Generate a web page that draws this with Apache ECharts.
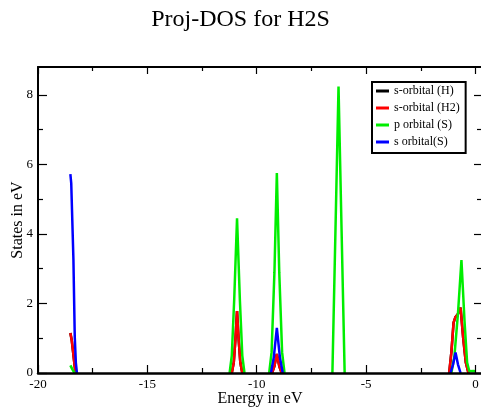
<!DOCTYPE html>
<html>
<head>
<meta charset="utf-8">
<script src="https://cdn.jsdelivr.net/npm/echarts@6/dist/echarts.min.js"></script>
<style>
  html, body { margin: 0; padding: 0; background: #fff; }
  #chart { width: 481px; height: 408px; }
</style>
</head>
<body>
<div id="chart"></div>
<script>
// Projected density of states for H2S, energies in eV.
const seriesNames = ['s-orbital (H)', 's-orbital (H2)', 'p orbital (S)', 's orbital(S)'];
const seriesColors = ['#000000', '#ff0000', '#00ee00', '#0000ff'];

const energyMajor = [-20, -15, -10, -5, 0];
const energyMinor = [-17.5, -12.5, -7.5, -2.5];
const statesMajor = [0, 2, 4, 6, 8];
const statesMinor = [1, 3, 5, 7];

// [energy, states]
const sOrbitalH = [
  [-18.52, 1.15], [-18.46, 0.95], [-18.39, 0.57], [-18.31, 0.12], [-18.26, 0],
  [-11.14, 0], [-11.05, 0.30], [-10.97, 1.00], [-10.90, 1.78], [-10.83, 1.00], [-10.75, 0.30], [-10.66, 0],
  [-9.30, 0], [-9.19, 0.20], [-9.08, 0.55], [-8.97, 0.20], [-8.86, 0],
  [-1.20, 0], [-1.10, 0.60], [-1.00, 1.45], [-0.92, 1.60], [-0.80, 1.70], [-0.68, 1.88], [-0.56, 1.00], [-0.44, 0.30], [-0.32, 0], [0, 0]
];

const sOrbitalH2 = [
  [-18.52, 1.15], [-18.46, 0.95], [-18.39, 0.57], [-18.31, 0.12], [-18.26, 0],
  [-11.14, 0], [-11.05, 0.30], [-10.97, 1.00], [-10.90, 1.78], [-10.83, 1.00], [-10.75, 0.30], [-10.66, 0],
  [-9.30, 0], [-9.19, 0.20], [-9.08, 0.55], [-8.97, 0.20], [-8.86, 0],
  [-1.20, 0], [-1.10, 0.60], [-1.00, 1.45], [-0.92, 1.60], [-0.80, 1.70], [-0.68, 1.88], [-0.56, 1.00], [-0.44, 0.30], [-0.32, 0], [0, 0]
];

const pOrbitalS = [
  [-18.52, 0.22], [-18.44, 0.12], [-18.36, 0.03], [-18.30, 0],
  [-11.24, 0], [-11.14, 0.50], [-11.03, 2.10], [-10.90, 4.45], [-10.77, 2.10], [-10.66, 0.50], [-10.56, 0],
  [-9.43, 0], [-9.32, 0.60], [-9.19, 2.90], [-9.08, 5.75], [-8.97, 2.90], [-8.84, 0.60], [-8.73, 0],
  [-6.54, 0], [-6.40, 4.10], [-6.26, 8.24], [-6.12, 4.10], [-5.98, 0],
  [-1.10, 0], [-0.96, 0.50], [-0.80, 1.70], [-0.64, 3.25], [-0.50, 1.50], [-0.38, 0.30], [-0.28, 0.05], [-0.10, 0.06], [0, 0.05]
];

const sOrbitalS = [
  [-18.52, 5.72], [-18.48, 5.45], [-18.38, 3.25], [-18.32, 1.05], [-18.27, 0.30], [-18.22, 0],
  [-9.35, 0], [-9.22, 0.45], [-9.08, 1.30], [-8.94, 0.45], [-8.81, 0],
  [-1.14, 0], [-1.02, 0.25], [-0.91, 0.59], [-0.80, 0.25], [-0.68, 0], [0, 0]
];

const seriesData = [sOrbitalH, sOrbitalH2, pOrbitalS, sOrbitalS];

// Break the line wherever it would run flat along zero, so the
// black frame at the bottom stays black between peaks.
function withGaps(points) {
  const out = [];
  for (let i = 0; i < points.length; i++) {
    if (i > 0 && points[i][1] === 0 && points[i - 1][1] === 0) {
      out.push([points[i][0], null]);
    }
    out.push(points[i]);
  }
  return out;
}

const FONT = "'Liberation Serif', 'DejaVu Serif', serif";
const X_MIN = -20, X_MAX = 0.3, Y_MIN = 0, Y_MAX = 8.8;

// Builds one axis layer: frame line, inward ticks at given values, optional labels.
function axisLayer(kind, position, ticks, tickLen, opts) {
  opts = opts || {};
  const isX = kind === 'x';
  const ax = {
    type: 'value',
    position: position,
    min: isX ? X_MIN : Y_MIN,
    max: isX ? X_MAX : Y_MAX,
    z: 10,
    axisLine: { show: !!opts.line, onZero: false, lineStyle: { color: '#000', width: opts.lineWidth || 2 } },
    axisTick: { show: true, inside: true, length: tickLen, customValues: ticks,
                lineStyle: { color: '#000', width: 1.2 } },
    axisLabel: { show: false },
    splitLine: { show: false }
  };
  if (opts.labels) {
    ax.axisLabel = { show: true, customValues: ticks, color: '#000', fontFamily: FONT,
                     fontSize: 13, margin: 5 };
  }
  if (opts.name) {
    ax.name = opts.name;
    ax.nameLocation = 'middle';
    ax.nameGap = opts.nameGap;
    ax.nameMoveOverlap = false;
    ax.nameTextStyle = { color: '#000', fontFamily: FONT, fontSize: 16 };
  }
  return ax;
}

const chart = echarts.init(document.getElementById('chart'), null, { renderer: 'canvas' });

chart.setOption({
  animation: false,
  backgroundColor: '#fff',
  title: {
    text: 'Proj-DOS for H2S',
    left: 'center',
    top: 3,
    textStyle: { color: '#000', fontFamily: FONT, fontSize: 24, fontWeight: 'normal' }
  },
  grid: { left: 38, right: -1, top: 67, bottom: 35, containLabel: false, outerBoundsMode: 'none' },
  xAxis: [
    axisLayer('x', 'bottom', energyMajor, 8, { line: true, lineWidth: 2.5, labels: true, name: 'Energy in eV', nameGap: 18 }),
    axisLayer('x', 'bottom', energyMinor, 5),
    axisLayer('x', 'top', energyMajor, 7, { line: true }),
    axisLayer('x', 'top', energyMinor, 4)
  ],
  yAxis: [
    axisLayer('y', 'left', statesMajor, 9, { line: true, labels: true, name: 'States in eV', nameGap: 12 }),
    axisLayer('y', 'left', statesMinor, 5),
    axisLayer('y', 'right', statesMajor, 8, { line: true }),
    axisLayer('y', 'right', statesMinor, 5)
  ],
  legend: {
    orient: 'vertical',
    left: 372,
    top: 82,
    padding: [2, 6, 4, 4],
    backgroundColor: '#fff',
    borderColor: '#000',
    borderWidth: 2,
    borderRadius: 0,
    icon: 'rect',
    itemWidth: 13,
    itemHeight: 3,
    itemGap: 3,
    textStyle: { color: '#000', fontFamily: FONT, fontSize: 12, lineHeight: 14 },
    data: seriesNames
  },
  series: seriesData.map((d, i) => ({
    name: seriesNames[i],
    type: 'line',
    xAxisIndex: 0,
    yAxisIndex: 0,
    data: withGaps(d),
    connectNulls: false,
    showSymbol: false,
    symbol: 'none',
    z: 2 + i,
    color: seriesColors[i],
    lineStyle: { color: seriesColors[i], width: 2.5 },
    emphasis: { disabled: true }
  }))
});
</script>
</body>
</html>
